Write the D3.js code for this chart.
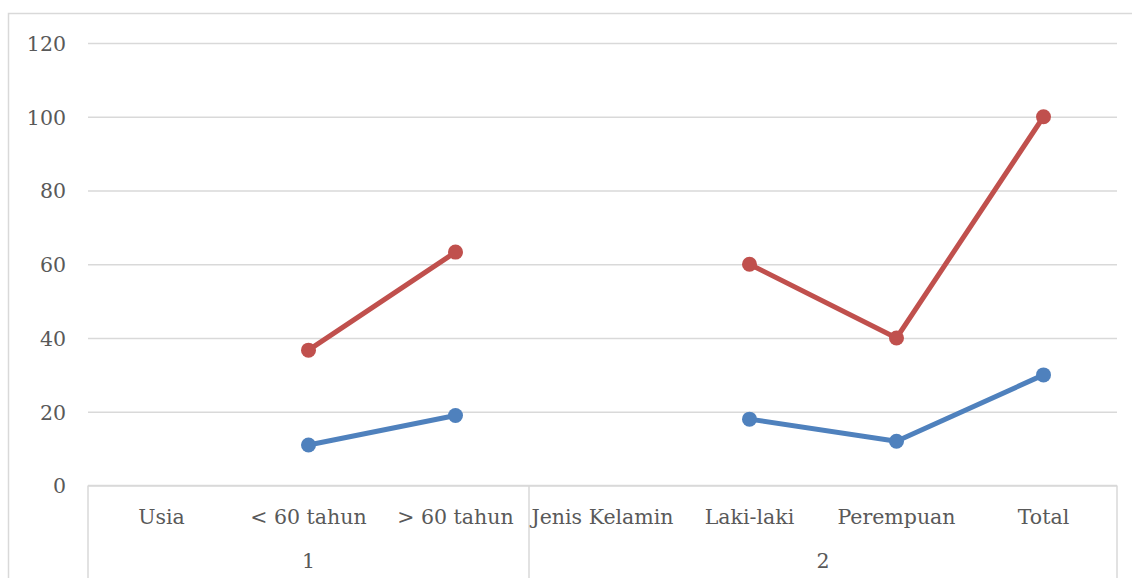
<!DOCTYPE html>
<html>
<head>
<meta charset="utf-8">
<script src="https://cdn.jsdelivr.net/npm/d3@7"></script>
<style>
  body { margin: 0; background: #fff; }
  svg { display: block; font-family: "DejaVu Serif", "Liberation Serif", serif; }
  .tick text { fill: #595959; font-size: 20.5px; font-family: "DejaVu Serif", serif; }
  .grid line { stroke: #d9d9d9; stroke-width: 1.5; }
  .box { stroke: #d9d9d9; stroke-width: 1.5; fill: none; }
  .cat-label { fill: #595959; font-size: 20.5px; }
</style>
</head>
<body>
<svg></svg>
<script>
  // Chart data
  const categories = ["Usia", "< 60 tahun", "> 60 tahun", "Jenis Kelamin", "Laki-laki", "Perempuan", "Total"];
  const groups = ["1", "1", "1", "2", "2", "2", "2"];
  const blueValues = [null, 11, 19, null, 18, 12, 30];
  const redValues = [null, 36.7, 63.3, null, 60, 40, 100];
  const yTicks = [0, 20, 40, 60, 80, 100, 120];

  const w = 1132;
  const h = 578;
  const margin = { top: 43, right: 15, bottom: 92, left: 88 };

  const svg = d3.select("svg")
    .attr("width", w)
    .attr("height", h);

  // Outer chart border (top and left visible)
  svg.append("path")
    .attr("class", "box")
    .attr("d", `M8.5,${h} L8.5,13.5 L${w},13.5`);

  const x = d3.scaleBand()
    .domain(categories)
    .range([margin.left, w - margin.right])
    .paddingInner(0)
    .paddingOuter(0);

  const y = d3.scaleLinear()
    .domain([0, 120])
    .range([h - margin.bottom - 0.5, margin.top]);

  // Gridlines + y labels
  const yAxis = svg.append("g")
    .attr("class", "grid")
    .attr("transform", `translate(${margin.left},0)`)
    .call(d3.axisLeft(y)
      .tickValues(yTicks)
      .tickSize(-(x.range()[1] - margin.left))
      .tickPadding(22)
      .tickFormat(d3.format("d")));
  yAxis.attr("font-family", null).attr("font-size", null);
  yAxis.select(".domain").remove();
  yAxis.selectAll(".tick text").attr("dy", "0.36em");

  // Category axis with grouping
  const axisY = y(0);
  const x0 = x.range()[0];
  const x1 = x.range()[1];
  svg.append("line").attr("class", "box")
    .attr("x1", x0).attr("x2", x1).attr("y1", axisY).attr("y2", axisY);

  // Group separators
  const groupNames = Array.from(new Set(groups));
  const groupBounds = groupNames.map((g) => {
    const cats = categories.filter((c, i) => groups[i] === g);
    return { name: g, start: x(cats[0]), end: x(cats[cats.length - 1]) + x.bandwidth() };
  });

  const seps = [x0].concat(groupBounds.map((b) => b.end));
  svg.selectAll(".sep")
    .data(seps)
    .enter()
    .append("line")
    .attr("class", "box")
    .attr("x1", (d) => d)
    .attr("x2", (d) => d)
    .attr("y1", axisY)
    .attr("y2", h);

  svg.selectAll(".cat-label.c")
    .data(categories)
    .enter()
    .append("text")
    .attr("class", "cat-label c")
    .attr("x", (d) => x(d) + x.bandwidth() / 2)
    .attr("y", 524)
    .attr("text-anchor", "middle")
    .text((d) => d);

  svg.selectAll(".cat-label.g")
    .data(groupBounds)
    .enter()
    .append("text")
    .attr("class", "cat-label g")
    .attr("x", (d) => (d.start + d.end) / 2)
    .attr("y", 568)
    .attr("text-anchor", "middle")
    .text((d) => d.name);

  // Series
  const series = [
    { name: "blue", color: "#4F81BD", values: blueValues },
    { name: "red", color: "#C0504D", values: redValues }
  ];

  const line = d3.line()
    .defined((d) => d.v !== null)
    .x((d) => x(d.c) + x.bandwidth() / 2)
    .y((d) => y(d.v));

  series.forEach((s) => {
    const pts = categories.map((c, i) => ({ c: c, v: s.values[i] }));
    svg.append("path")
      .datum(pts)
      .attr("fill", "none")
      .attr("stroke", s.color)
      .attr("stroke-width", 5)
      .attr("stroke-linejoin", "round")
      .attr("d", line);

    svg.selectAll(".dot-" + s.name)
      .data(pts.filter((d) => d.v !== null))
      .enter()
      .append("circle")
      .attr("class", "dot-" + s.name)
      .attr("cx", (d) => x(d.c) + x.bandwidth() / 2)
      .attr("cy", (d) => y(d.v))
      .attr("r", 7.5)
      .attr("fill", s.color);
  });
</script>
</body>
</html>
